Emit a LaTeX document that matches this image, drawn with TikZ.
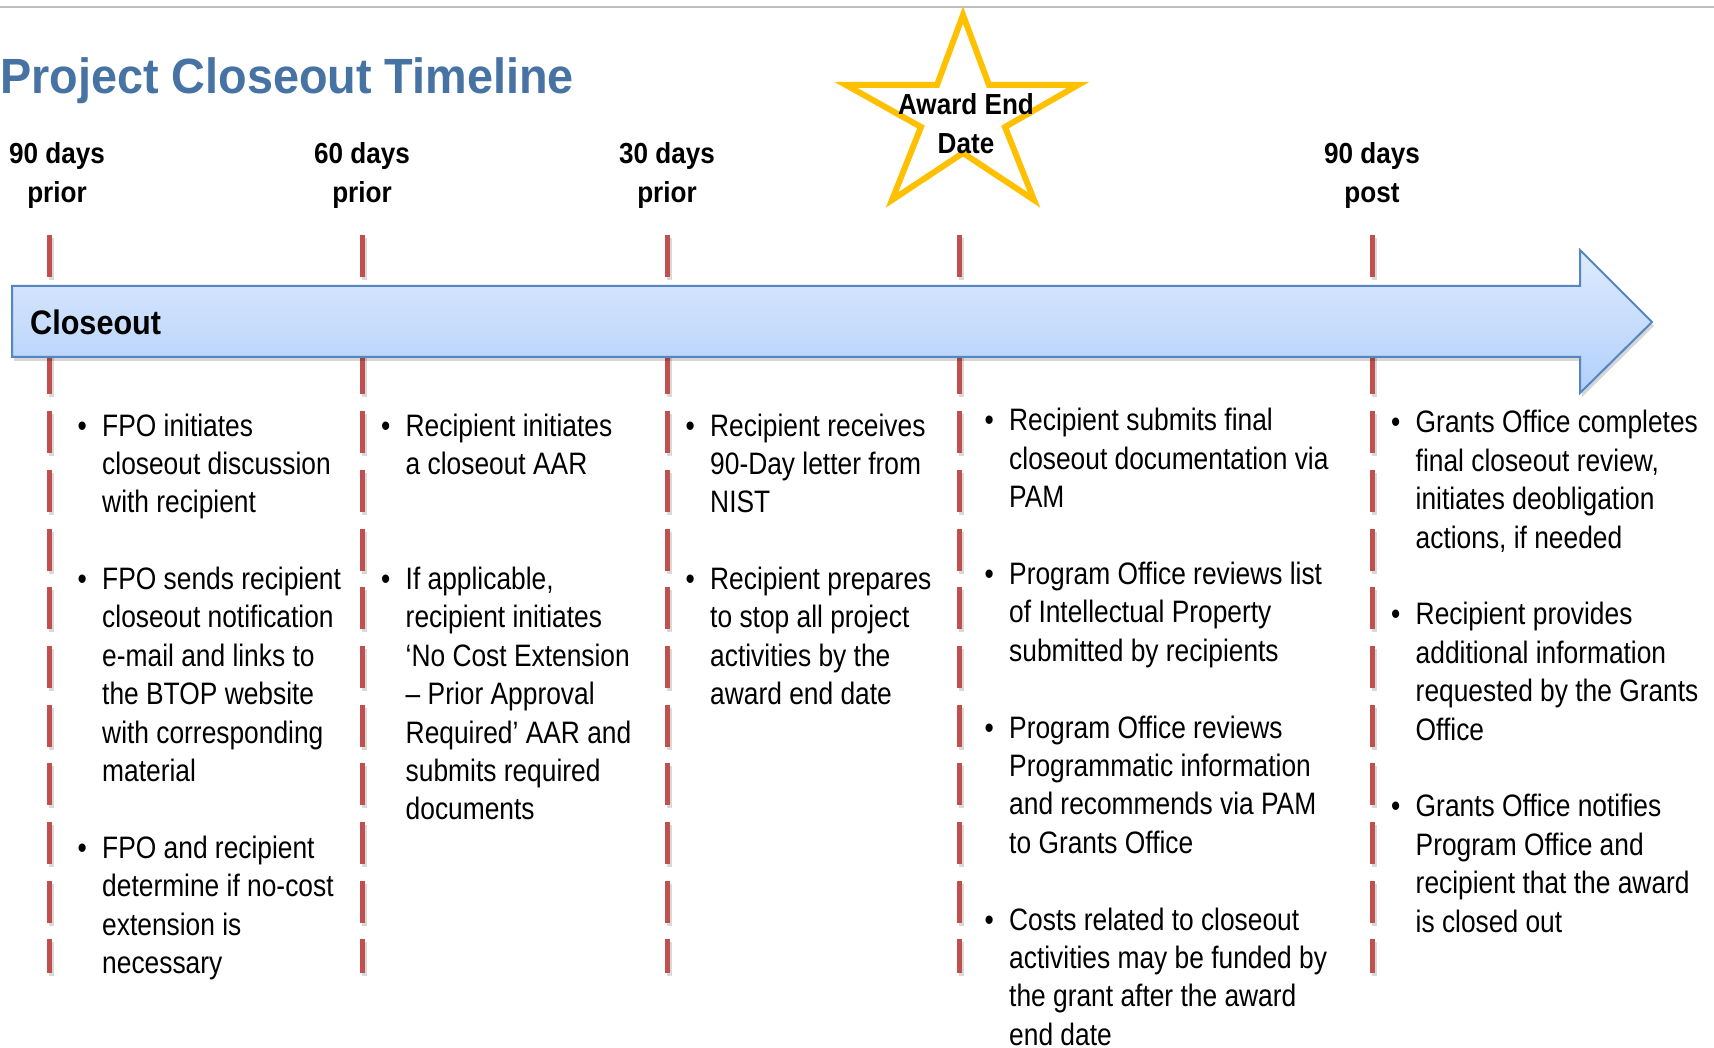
\documentclass[tikz,border=0pt]{standalone}
\usepackage{fontspec}
\setmainfont{Liberation Sans}
\newfontfamily\bodyfont[FakeStretch=0.85]{Liberation Sans}
\newfontfamily\headfont[FakeStretch=0.9]{Liberation Sans}
\newfontfamily\titlefont[FakeStretch=0.945]{Liberation Sans}

\definecolor{titleblue}{RGB}{70,114,164}
\definecolor{markred}{RGB}{192,80,77}
\definecolor{stargold}{RGB}{255,192,0}
\definecolor{arrowtop}{RGB}{222,235,253}
\definecolor{arrowbot}{RGB}{177,208,250}
\definecolor{arrowedge}{RGB}{86,134,194}
\definecolor{rulegray}{RGB}{191,191,191}

% bullet list column: bullet cell + text cell, one row per printed line
\newcommand\bulletcol[1]{\begin{tabular}[t]{@{}l@{\hspace{15.4pt}}l@{}}#1\end{tabular}}
\newcommand\stacked[1]{\begin{tabular}[t]{@{}c@{}}#1\end{tabular}}

\begin{document}
\begin{tikzpicture}[x=1pt,y=-1pt,
  tickline/.style={line width=5pt, draw=markred, dash pattern=on 42pt off 16.7pt},
  tickshadow/.style={line width=5pt, draw=black, opacity=0.15, dash pattern=on 42pt off 16.7pt},
  bodytext/.style={inner sep=0pt, anchor=base west, font=\bodyfont\fontsize{31}{38.4}\selectfont},
  headtext/.style={inner sep=0pt, anchor=base, font=\headfont\bfseries\fontsize{29}{38.4}\selectfont}]

\useasboundingbox (0,0) rectangle (1714,1048);
\fill[white] (0,0) rectangle (1714,1048);

% thin rule across the top
\draw[rulegray, line width=2pt] (0,7) -- (1714,7);

% title
\node[inner sep=0pt, anchor=base west, text=titleblue,
      font=\titlefont\bfseries\fontsize{49.5}{56}\selectfont] (title) at (0,94) {Project Closeout Timeline};

% milestone labels
\node[headtext] (l90prior) at (57,164)   {\stacked{90 days\\prior}};
\node[headtext] (l60prior) at (362,164)  {\stacked{60 days\\prior}};
\node[headtext] (l30prior) at (667,164)  {\stacked{30 days\\prior}};
\node[headtext] (l90post)  at (1372,164) {\stacked{90 days\\post}};

% dashed milestone markers
\foreach \x/\n in {49/a,362/b,667/c,959/d,1372/e}{
  \coordinate (m\n top) at (\x,235);
  \coordinate (m\n bot) at (\x,973);
  \coordinate (s\n top) at (\x+2.5,238);
  \coordinate (s\n bot) at (\x+2.5,976);
  \draw[tickshadow] (s\n top) -- (s\n bot);
  \draw[tickline] (m\n top) -- (m\n bot);
}

% timeline arrow
\path[fill=black, opacity=0.16]
  (14,290) -- (1582,290) -- (1582,254) -- (1654,326) -- (1582,397) -- (1582,361) -- (14,361) -- cycle;
\path[top color=arrowtop, bottom color=arrowbot, draw=arrowedge, line width=2pt, line join=miter]
  (12,286) -- (1580,286) -- (1580,250) -- (1652,322) -- (1580,393) -- (1580,357) -- (12,357) -- cycle;
\node[inner sep=0pt, anchor=base west, font=\headfont\bfseries\fontsize{34}{40}\selectfont] (closeout) at (30,335) {Closeout};

% award end date star
\filldraw[fill=white, draw=stargold, line width=6pt, line join=miter]
  (963,15) -- (989,85) -- (1078,85) -- (1005,127) -- (1034,200) -- (963,153)
  -- (892,200) -- (921,127) -- (846,85) -- (937,85) -- cycle;
\node[headtext, font=\headfont\bfseries\fontsize{29}{38.5}\selectfont] (award) at (966,115) {\stacked{Award End\\Date}};

% 90 days prior
\node[bodytext] (col1) at (77.4,436) {\bulletcol{%
\textbullet & FPO initiates\\
 & closeout discussion\\
 & with recipient\\
 & \\
\textbullet & FPO sends recipient\\
 & closeout notification\\
 & e-mail and links to\\
 & the BTOP website\\
 & with corresponding\\
 & material\\
 & \\
\textbullet & FPO and recipient\\
 & determine if no-cost\\
 & extension is\\
 & necessary}};

% 60 days prior
\node[bodytext] (col2) at (380.9,436) {\bulletcol{%
\textbullet & Recipient initiates\\
 & a closeout AAR\\
 & \\
 & \\
\textbullet & If applicable,\\
 & recipient initiates\\
 & ‘No Cost Extension\\
 & – Prior Approval\\
 & Required’ AAR and\\
 & submits required\\
 & documents}};

% 30 days prior
\node[bodytext] (col3) at (685.4,436) {\bulletcol{%
\textbullet & Recipient receives\\
 & 90-Day letter from\\
 & NIST\\
 & \\
\textbullet & Recipient prepares\\
 & to stop all project\\
 & activities by the\\
 & award end date}};

% award end date
\node[bodytext] (col4) at (984.4,431) {\bulletcol{%
\textbullet & Recipient submits final\\
 & closeout documentation via\\
 & PAM\\
 & \\
\textbullet & Program Office reviews list\\
 & of Intellectual Property\\
 & submitted by recipients\\
 & \\
\textbullet & Program Office reviews\\
 & Programmatic information\\
 & and recommends via PAM\\
 & to Grants Office\\
 & \\
\textbullet & Costs related to closeout\\
 & activities may be funded by\\
 & the grant after the award\\
 & end date}};

% 90 days post
\node[bodytext] (col5) at (1390.9,433) {\bulletcol{%
\textbullet & Grants Office completes\\
 & final closeout review,\\
 & initiates deobligation\\
 & actions, if needed\\
 & \\
\textbullet & Recipient provides\\
 & additional information\\
 & requested by the Grants\\
 & Office\\
 & \\
\textbullet & Grants Office notifies\\
 & Program Office and\\
 & recipient that the award\\
 & is closed out}};

\end{tikzpicture}
\end{document}
